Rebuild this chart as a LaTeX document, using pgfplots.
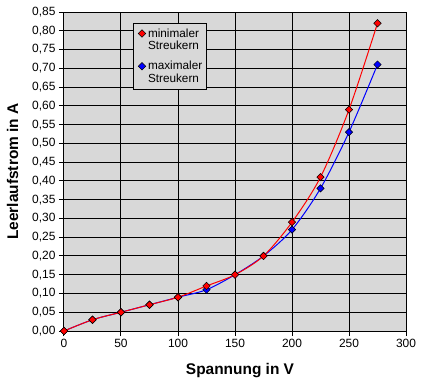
\documentclass[border=0pt]{standalone}
\usepackage{pgfplots}
\pgfplotsset{compat=1.18}
\usepackage{fontspec}
\setmainfont{Liberation Sans}
\definecolor{plotbg}{RGB}{216,216,216}
\begin{document}
\begin{tikzpicture}
\path[use as bounding box] (-64bp,-53bp) rectangle (359bp,331bp);
\begin{axis}[
  at={(0,0)}, anchor=south west,
  scale only axis, width=342bp, height=319bp,
  xmin=0, xmax=300, ymin=0, ymax=0.85,
  xtick={0,50,100,150,200,250,300},
  ytick={0,0.05,0.10,0.15,0.20,0.25,0.30,0.35,0.40,0.45,0.50,0.55,0.60,0.65,0.70,0.75,0.80,0.85},
  grid=major, major grid style={black, line width=1bp},
  axis line style={black, line width=1bp},
  tick style={black, line width=1bp},
  major tick length=5bp, tick align=outside,
  xtick pos=bottom, ytick pos=left,
  axis background/.style={fill=plotbg},
  /pgf/number format/assume math mode=true,
  yticklabel style={/pgf/number format/.cd, fixed, fixed zerofill, precision=2, use comma},
  ticklabel style={font=\fontsize{12}{14}\selectfont},
  xlabel={Spannung in V}, ylabel={Leerlaufstrom in A},
  label style={font=\bfseries\fontsize{15.5}{18}\selectfont},
  xlabel style={at={(axis description cs:0.5146,-0.1348)}, anchor=base},
  ylabel style={at={(axis description cs:-0.1506,0.5)}, anchor=center},
  legend style={at={(axis description cs:0.2018,0.9655)}, anchor=north west,
    fill=plotbg, draw=black, line width=1bp,
    font=\fontsize{11.8}{12.8}\selectfont,
    nodes={align=left, inner sep=1bp}, row sep=8bp, inner xsep=3.5bp, inner ysep=4bp},
  legend cell align=left,
  legend image code/.code={\draw[mark repeat=2, mark phase=2, draw=none, yshift=6.4bp] plot coordinates {(0bp,0bp)(5bp,0bp)(10bp,0bp)};},
]
\addplot[blue, line width=1bp, smooth, mark=square*, mark size=2.6bp,
  mark options={fill=blue, draw=black, line width=0.5bp, solid, rotate=45}, forget plot]
  coordinates {(0,0)(25,0.03)(50,0.05)(75,0.07)(100,0.09)(125,0.11)(150,0.15)(175,0.20)(200,0.27)(225,0.38)(250,0.53)(275,0.71)};
\addplot[red, line width=1bp, smooth, mark=square*, mark size=2.6bp,
  mark options={fill=red, draw=black, line width=0.5bp, solid, rotate=45}]
  coordinates {(0,0)(25,0.03)(50,0.05)(75,0.07)(100,0.09)(125,0.12)(150,0.15)(175,0.20)(200,0.29)(225,0.41)(250,0.59)(275,0.82)};
\addlegendentry{minimaler\\Streukern}
\addlegendimage{blue, line width=1bp, mark=square*, mark size=2.6bp,
  mark options={fill=blue, draw=black, line width=0.5bp, solid, rotate=45}}
\addlegendentry{maximaler\\Streukern}
\end{axis}
\end{tikzpicture}
\end{document}
